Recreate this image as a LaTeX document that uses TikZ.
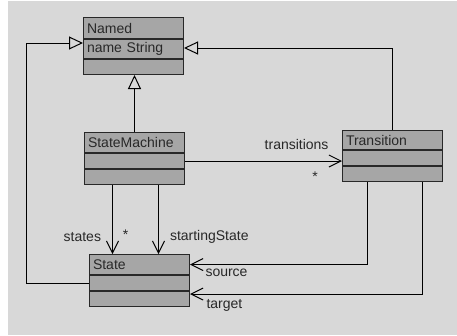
\documentclass[tikz,border=0pt]{standalone}
\usepackage{fontspec}
\setmainfont{Liberation Sans}
\usetikzlibrary{positioning, arrows.meta}
\definecolor{canvasgray}{RGB}{216,216,216}
\definecolor{boxgray}{RGB}{166,166,166}
\definecolor{inkgray}{RGB}{40,40,40}

\begin{document}
\begin{tikzpicture}[x=1pt, y=-1pt,
    every node/.style={font=\fontsize{14}{16}\selectfont, text=inkgray},
    head/.style={rectangle, draw=inkgray, fill=boxgray, line width=1pt, minimum width=100pt, minimum height=20pt,
        text width=93pt, align=left, inner xsep=3pt, inner ysep=0pt, anchor=north west},
    part/.style={rectangle, draw=inkgray, fill=boxgray, line width=1pt, minimum width=100pt, minimum height=15pt,
        text width=93pt, align=left, inner xsep=3pt, inner ysep=0pt},
    gen/.style={-{Triangle[open, length=14pt, width=13pt]}, line width=1pt, black},
    assoc/.style={-{Straight Barb[length=12pt, width=12pt]}, line width=1pt, black},
    lbl/.style={inner sep=1pt}]

    % canvas
    \useasboundingbox (0,0) rectangle (457,335);
    \fill[white] (0,0) rectangle (457,335);
    \fill[canvasgray] (8,1) rectangle (457,335);

    % classes
    \node at (83,17) [head, minimum height=21pt] (named) {Named};
    \node [part, below=0pt of named, minimum height=19pt] (named2) {name String};
    \node [part, below=0pt of named2] (named3) {};

    \node at (84,132) [head] (sm) {StateMachine};
    \node [part, below=0pt of sm] (sm2) {};
    \node [part, below=0pt of sm2] (sm3) {};

    \node at (342,130) [head, minimum height=19pt] (trans) {Transition};
    \node [part, below=0pt of trans] (trans2) {};
    \node [part, below=0pt of trans2] (trans3) {};

    \node at (89,254) [head] (state) {State};
    \node [part, below=0pt of state] (state2) {};
    \node [part, below=0pt of state2] (state3) {};

    % generalizations
    \draw[gen] (sm.north) -- (sm.north |- named3.south);
    \draw[gen] (state2.west) -- ++(-63,0) |- ([yshift=6pt]named2.west);
    \draw[gen] (trans.north) |- ([yshift=1pt]named2.east);

    % associations
    \draw[assoc] (sm2.east) -- (sm2.east -| trans2.west)
        node[lbl, at end, anchor=south east, xshift=-12pt, yshift=10pt] {transitions}
        node[lbl, at end, xshift=-27pt, yshift=-16pt] {*};
    \draw[assoc] ([xshift=-22pt]sm3.south) -- ([xshift=-22pt]sm3.south |- state.north)
        node[lbl, at end, anchor=east, xshift=-10pt, yshift=17pt] {states}
        node[lbl, at end, xshift=13pt, yshift=19pt] {*};
    \draw[assoc] ([xshift=24pt]sm3.south) -- ([xshift=24pt]sm3.south |- state.north)
        node[lbl, at end, anchor=west, xshift=10pt, yshift=17pt] {startingState};
    \draw[assoc] ([xshift=-25pt]trans3.south) |- (state.east)
        node[lbl, at end, anchor=north west, xshift=14pt, yshift=-3pt] {source};
    \draw[assoc] ([xshift=30pt]trans3.south) |- ([yshift=5pt]state3.east)
        node[lbl, at end, anchor=north west, xshift=15pt, yshift=-4pt] {target};
\end{tikzpicture}
\end{document}
